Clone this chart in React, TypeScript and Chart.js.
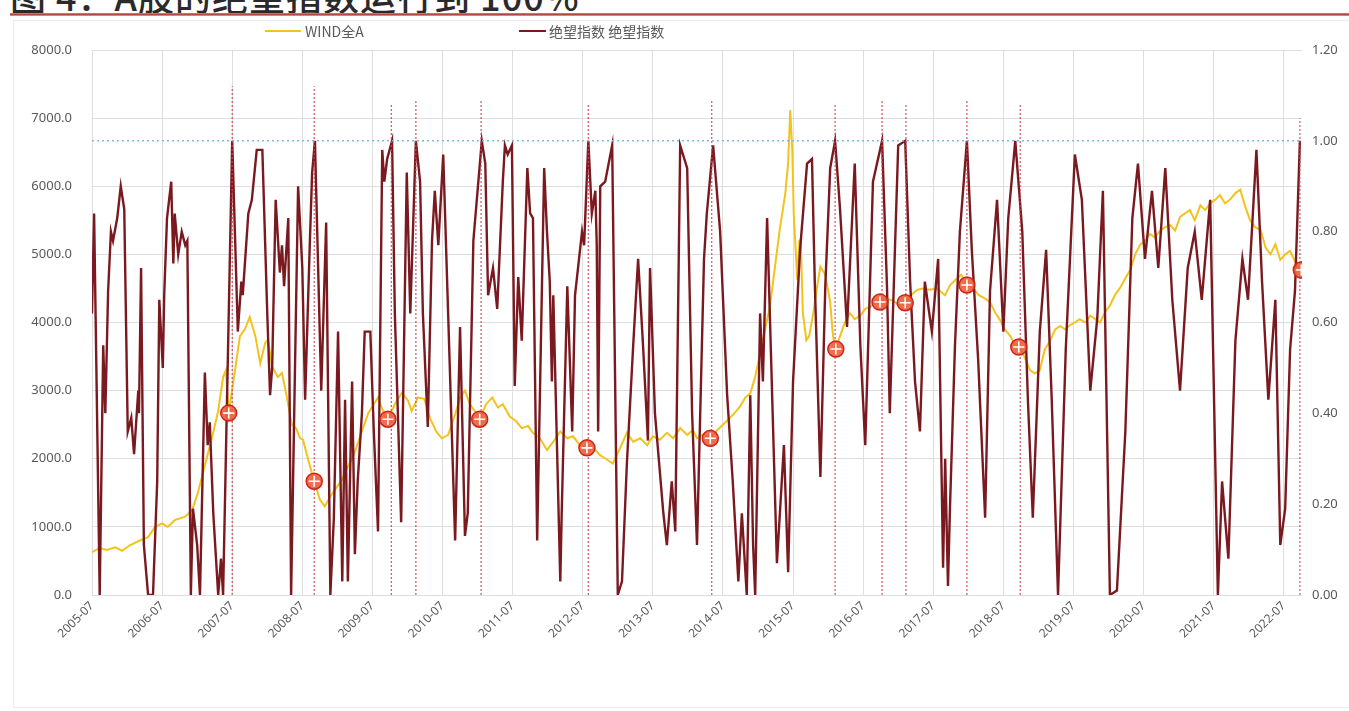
import React, { useEffect, useRef } from "react";
import { Chart, registerables } from "chart.js";

Chart.register(...registerables);

// ---------- data (dates are decimal years) ----------
const tickYears = [2005, 2006, 2007, 2008, 2009, 2010, 2011, 2012, 2013, 2014, 2015, 2016, 2017, 2018, 2019, 2020, 2021, 2022];

const windDates = [
  2005.50, 2005.61, 2005.71, 2005.83, 2005.93, 2006.04, 2006.18, 2006.30, 2006.40, 2006.50,
  2006.58, 2006.68, 2006.83, 2006.93, 2007.01, 2007.11, 2007.21, 2007.30, 2007.37, 2007.41,
  2007.45, 2007.54, 2007.61, 2007.68, 2007.75, 2007.83, 2007.90, 2007.97, 2008.01, 2008.07,
  2008.15, 2008.21, 2008.28, 2008.35, 2008.41, 2008.47, 2008.51, 2008.58, 2008.67, 2008.75,
  2008.82, 2008.90, 2008.97, 2009.07, 2009.15, 2009.25, 2009.35, 2009.44, 2009.52, 2009.58,
  2009.65, 2009.72, 2009.82, 2009.92, 2010.01, 2010.06, 2010.15, 2010.24, 2010.32, 2010.41,
  2010.49, 2010.58, 2010.68, 2010.75, 2010.82, 2010.89, 2010.96, 2011.03, 2011.12, 2011.21,
  2011.29, 2011.36, 2011.46, 2011.55, 2011.63, 2011.72, 2011.79, 2011.89, 2011.99, 2012.08,
  2012.18, 2012.28, 2012.36, 2012.46, 2012.56, 2012.66, 2012.75, 2012.83, 2012.93, 2013.03,
  2013.13, 2013.22, 2013.32, 2013.42, 2013.50, 2013.60, 2013.70, 2013.79, 2013.89, 2013.99,
  2014.07, 2014.13, 2014.22, 2014.32, 2014.40, 2014.50, 2014.60, 2014.69, 2014.74, 2014.82,
  2014.89, 2014.96, 2015.03, 2015.10, 2015.17, 2015.24, 2015.31, 2015.39, 2015.43, 2015.46,
  2015.49, 2015.51, 2015.56, 2015.59, 2015.61, 2015.64, 2015.69, 2015.73, 2015.79, 2015.84,
  2015.89, 2015.96, 2016.03, 2016.07, 2016.11, 2016.17, 2016.24, 2016.31, 2016.38, 2016.46,
  2016.53, 2016.60, 2016.67, 2016.74, 2016.83, 2016.93, 2017.01, 2017.10, 2017.18, 2017.27,
  2017.35, 2017.45, 2017.55, 2017.67, 2017.74, 2017.81, 2017.90, 2017.98, 2018.07, 2018.15,
  2018.24, 2018.31, 2018.38, 2018.45, 2018.52, 2018.60, 2018.65, 2018.72, 2018.80, 2018.88,
  2018.95, 2019.02, 2019.09, 2019.17, 2019.24, 2019.31, 2019.38, 2019.45, 2019.52, 2019.59,
  2019.67, 2019.74, 2019.81, 2019.88, 2019.95, 2020.02, 2020.09, 2020.16, 2020.24, 2020.31,
  2020.38, 2020.45, 2020.52, 2020.59, 2020.66, 2020.74, 2020.81, 2020.88, 2020.95, 2021.02,
  2021.09, 2021.16, 2021.23, 2021.31, 2021.38, 2021.45, 2021.52, 2021.59, 2021.66, 2021.73,
  2021.81, 2021.88, 2021.95, 2022.02, 2022.09, 2022.17, 2022.24, 2022.31, 2022.38, 2022.45,
  2022.52, 2022.59, 2022.66, 2022.73,
];
const windValues = [
  630, 690, 660, 700, 650, 730, 800, 850, 1000, 1050,
  1000, 1100, 1150, 1250, 1500, 1900, 2300, 2700, 3200, 3300,
  2670, 3300, 3800, 3900, 4080, 3800, 3400, 3700, 3750, 3350,
  3200, 3260, 2900, 2500, 2450, 2300, 2280, 2000, 1670, 1400,
  1300, 1450, 1550, 1700, 1880, 2100, 2400, 2670, 2800, 2900,
  2700, 2580, 2800, 2970, 2850, 2700, 2900, 2880, 2600, 2400,
  2300, 2350, 2650, 2900, 3000, 2800, 2700, 2580, 2800, 2900,
  2750, 2800, 2620, 2550, 2450, 2480, 2380, 2300, 2130, 2250,
  2400, 2300, 2330, 2200, 2160, 2150, 2050, 2000, 1930, 2150,
  2380, 2250, 2300, 2200, 2330, 2280, 2380, 2300, 2450, 2350,
  2420, 2300, 2360, 2300, 2400, 2500, 2600, 2700, 2760, 2900,
  2960, 3200, 3550, 3900, 4230, 4800, 5360, 5900, 6340, 7120,
  6500, 5600, 4630, 5200, 5210, 4140, 3740, 3800, 4140, 4500,
  4820, 4700, 4300, 3800, 3610, 3800, 4000, 4140, 4050, 4100,
  4200, 4230, 4280, 4300, 4350, 4320, 4250, 4290, 4400, 4480,
  4500, 4480, 4500, 4400, 4550, 4620, 4700, 4550, 4500, 4400,
  4350, 4300, 4150, 4040, 3900, 3800, 3700, 3640, 3500, 3300,
  3250, 3300, 3600, 3740, 3900, 3950, 3900, 3960, 4000, 4050,
  4000, 4100, 4050, 4000, 4150, 4250, 4400, 4500, 4650, 4770,
  5000, 5140, 5200, 5300, 5250, 5350, 5400, 5430, 5350, 5550,
  5600, 5650, 5500, 5720, 5650, 5750, 5800, 5870, 5750, 5800,
  5900, 5950, 5700, 5500, 5400, 5360, 5100, 5000, 5150, 4920,
  5000, 5050, 4900, 4770,
];

const despairDates = [
  2005.50, 2005.53, 2005.61, 2005.66, 2005.69, 2005.73, 2005.77, 2005.80, 2005.86, 2005.91,
  2005.96, 2006.01, 2006.06, 2006.10, 2006.16, 2006.17, 2006.20, 2006.24, 2006.30, 2006.37,
  2006.43, 2006.46, 2006.51, 2006.53, 2006.57, 2006.63, 2006.66, 2006.68, 2006.73, 2006.78,
  2006.83, 2006.86, 2006.91, 2006.94, 2007.00, 2007.04, 2007.11, 2007.15, 2007.18, 2007.23,
  2007.30, 2007.34, 2007.37, 2007.50, 2007.58, 2007.63, 2007.65, 2007.73, 2007.78, 2007.85,
  2007.93, 2008.00, 2008.04, 2008.07, 2008.12, 2008.18, 2008.21, 2008.24, 2008.30, 2008.34,
  2008.44, 2008.50, 2008.54, 2008.60, 2008.64, 2008.68, 2008.77, 2008.84, 2008.90, 2008.95,
  2009.01, 2009.07, 2009.11, 2009.15, 2009.21, 2009.25, 2009.29, 2009.35, 2009.39, 2009.47,
  2009.52, 2009.58, 2009.64, 2009.67, 2009.71, 2009.78, 2009.82, 2009.91, 2009.99, 2010.04,
  2010.12, 2010.18, 2010.22, 2010.29, 2010.35, 2010.39, 2010.44, 2010.51, 2010.58, 2010.68,
  2010.75, 2010.82, 2010.86, 2010.94, 2011.06, 2011.11, 2011.15, 2011.22, 2011.28, 2011.36,
  2011.39, 2011.43, 2011.49, 2011.53, 2011.58, 2011.63, 2011.71, 2011.75, 2011.79, 2011.85,
  2011.95, 2011.99, 2012.03, 2012.06, 2012.08, 2012.18, 2012.20, 2012.28, 2012.35, 2012.39,
  2012.49, 2012.52, 2012.58, 2012.63, 2012.68, 2012.70, 2012.72, 2012.75, 2012.82, 2012.92,
  2013.00, 2013.06, 2013.13, 2013.22, 2013.29, 2013.36, 2013.43, 2013.46, 2013.53, 2013.65,
  2013.70, 2013.77, 2013.82, 2013.89, 2013.99, 2014.06, 2014.13, 2014.23, 2014.27, 2014.36,
  2014.46, 2014.56, 2014.64, 2014.72, 2014.77, 2014.84, 2014.89, 2014.93, 2014.96, 2015.03,
  2015.07, 2015.13, 2015.27, 2015.37, 2015.43, 2015.50, 2015.60, 2015.70, 2015.77, 2015.81,
  2015.89, 2015.96, 2016.03, 2016.10, 2016.17, 2016.27, 2016.38, 2016.46, 2016.53, 2016.64,
  2016.77, 2016.84, 2016.88, 2017.00, 2017.10, 2017.17, 2017.24, 2017.31, 2017.38, 2017.48,
  2017.57, 2017.64, 2017.67, 2017.71, 2017.74, 2017.81, 2017.88, 2017.98, 2018.05, 2018.14,
  2018.24, 2018.31, 2018.41, 2018.50, 2018.57, 2018.67, 2018.77, 2018.85, 2018.92, 2019.02,
  2019.11, 2019.19, 2019.28, 2019.39, 2019.52, 2019.62, 2019.74, 2019.84, 2019.92, 2020.02,
  2020.12, 2020.24, 2020.34, 2020.42, 2020.52, 2020.62, 2020.71, 2020.81, 2020.91, 2021.02,
  2021.13, 2021.23, 2021.33, 2021.45, 2021.56, 2021.62, 2021.71, 2021.81, 2021.91, 2021.99,
  2022.11, 2022.19, 2022.28, 2022.38, 2022.45, 2022.52, 2022.59, 2022.66, 2022.73,
];
const despairValues = [
  0.62, 0.84, 0.00, 0.55, 0.40, 0.67, 0.80, 0.78, 0.83, 0.90,
  0.85, 0.36, 0.39, 0.31, 0.45, 0.40, 0.72, 0.11, 0.00, 0.00,
  0.25, 0.65, 0.50, 0.66, 0.83, 0.91, 0.73, 0.84, 0.75, 0.80,
  0.77, 0.78, 0.00, 0.19, 0.11, 0.00, 0.49, 0.33, 0.38, 0.18,
  0.00, 0.08, 0.00, 1.00, 0.58, 0.69, 0.66, 0.84, 0.87, 0.98,
  0.98, 0.62, 0.44, 0.50, 0.87, 0.71, 0.77, 0.68, 0.83, 0.00,
  0.90, 0.72, 0.43, 0.74, 0.93, 1.00, 0.45, 0.82, 0.00, 0.17,
  0.58, 0.03, 0.43, 0.03, 0.47, 0.09, 0.25, 0.40, 0.58, 0.58,
  0.36, 0.14, 0.98, 0.91, 0.96, 1.00, 0.62, 0.16, 0.93, 0.62,
  1.00, 0.91, 0.62, 0.37, 0.78, 0.89, 0.77, 0.97, 0.62, 0.12,
  0.59, 0.13, 0.18, 0.78, 1.00, 0.95, 0.66, 0.72, 0.63, 0.91,
  0.99, 0.97, 0.99, 0.46, 0.70, 0.56, 0.94, 0.84, 0.83, 0.12,
  0.94, 0.80, 0.69, 0.47, 0.66, 0.03, 0.18, 0.68, 0.36, 0.66,
  0.80, 0.77, 1.00, 0.84, 0.89, 0.77, 0.36, 0.90, 0.91, 0.99,
  0.00, 0.03, 0.29, 0.55, 0.74, 0.55, 0.34, 0.72, 0.40, 0.18,
  0.11, 0.25, 0.14, 0.99, 0.94, 0.40, 0.11, 0.74, 0.84, 0.99,
  0.80, 0.44, 0.25, 0.03, 0.18, 0.00, 0.44, 0.11, 0.00, 0.62,
  0.47, 0.83, 0.07, 0.33, 0.05, 0.47, 0.76, 0.95, 0.96, 0.69,
  0.26, 0.68, 0.94, 1.00, 0.85, 0.59, 0.95, 0.55, 0.33, 0.91,
  1.00, 0.68, 0.40, 0.99, 1.00, 0.69, 0.47, 0.36, 0.69, 0.58,
  0.74, 0.06, 0.30, 0.02, 0.20, 0.55, 0.80, 1.00, 0.76, 0.52,
  0.17, 0.67, 0.87, 0.58, 0.83, 1.00, 0.80, 0.43, 0.17, 0.58,
  0.76, 0.43, 0.00, 0.54, 0.97, 0.87, 0.45, 0.61, 0.89, 0.00,
  0.01, 0.36, 0.83, 0.95, 0.74, 0.89, 0.72, 0.94, 0.65, 0.45,
  0.72, 0.80, 0.65, 0.87, 0.00, 0.25, 0.08, 0.56, 0.74, 0.65,
  0.98, 0.69, 0.43, 0.65, 0.11, 0.19, 0.54, 0.67, 1.00,
];

// signal markers on WIND全A
const markerDates = [2007.45, 2008.67, 2009.72, 2011.03, 2012.56, 2014.32, 2016.11, 2016.74, 2017.10, 2017.98, 2018.72, 2022.75];
const markerValues = [2670, 1670, 2580, 2580, 2160, 2300, 3610, 4300, 4290, 4550, 3640, 4770];

// vertical dotted signal lines (right axis heights)
const signalDates = [2007.50, 2008.67, 2009.77, 2010.12, 2011.05, 2012.58, 2014.34, 2016.10, 2016.77, 2017.11, 2017.98, 2018.74, 2022.73];
const signalTops = [1.12, 1.12, 1.08, 1.09, 1.09, 1.08, 1.09, 1.08, 1.09, 1.08, 1.09, 1.08, 1.05];

const thresholdLevel = 1.0;
const xMin = 2005.5;
const xMax = 2022.76;

const FONT = "'Noto Sans', 'Noto Sans CJK SC', sans-serif";

export default function App() {
  const canvasRef = useRef<HTMLCanvasElement | null>(null);

  useEffect(() => {
    const canvas = canvasRef.current;
    if (!canvas) return;
    const pairs = (xs: number[], ys: (number | null)[]) => xs.map((x, i) => ({ x, y: ys[i] }));
    const signalData: { x: number; y: number | null }[] = [];
    signalDates.forEach((d, i) => {
      signalData.push({ x: d, y: 0 }, { x: d, y: signalTops[i] }, { x: d, y: null });
    });

    const chart = new Chart(canvas, {
      type: "line",
      data: {
        datasets: [
          {
            label: "cross",
            data: pairs(markerDates, markerValues),
            yAxisID: "y",
            showLine: false,
            pointStyle: "cross",
            pointRadius: 5.5,
            pointBorderColor: "#ffffff",
            pointBorderWidth: 1.6,
            order: 0,
          },
          {
            label: "marker",
            data: pairs(markerDates, markerValues),
            yAxisID: "y",
            showLine: false,
            pointStyle: "circle",
            pointRadius: 8,
            pointBackgroundColor: "rgba(238,98,62,0.92)",
            pointBorderColor: "#c9261b",
            pointBorderWidth: 1.5,
            order: 1,
          },
          {
            label: "signal",
            data: signalData,
            yAxisID: "y1",
            borderColor: "rgba(200,70,85,0.85)",
            borderDash: [2, 2],
            borderWidth: 1.3,
            pointRadius: 0,
            spanGaps: false,
            order: 2,
          },
          {
            label: "threshold",
            data: [
              { x: xMin, y: thresholdLevel },
              { x: xMax, y: thresholdLevel },
            ],
            yAxisID: "y1",
            borderColor: "#7fbcd4",
            borderDash: [2, 3],
            borderWidth: 1.5,
            pointRadius: 0,
            order: 3,
          },
          {
            label: "绝望指数 绝望指数",
            data: pairs(despairDates, despairValues),
            yAxisID: "y1",
            borderColor: "#7a1a20",
            borderWidth: 2.4,
            pointRadius: 0,
            tension: 0,
            order: 4,
          },
          {
            label: "WIND全A",
            data: pairs(windDates, windValues),
            yAxisID: "y",
            borderColor: "#f2c31c",
            borderWidth: 2,
            pointRadius: 0,
            tension: 0,
            order: 5,
          },
        ],
      },
      options: {
        animation: false,
        responsive: false,
        events: [],
        layout: { padding: { top: 30, left: 0, right: 0, bottom: 0 } },
        plugins: { legend: { display: false }, tooltip: { enabled: false }, title: { display: false } },
        scales: {
          x: {
            type: "linear",
            min: xMin,
            max: xMax,
            afterBuildTicks: (scale: any) => {
              scale.ticks = tickYears.map((y) => ({ value: y + 0.5 }));
            },
            afterFit: (scale: any) => {
              scale.height = 116;
            },
            ticks: {
              autoSkip: false,
              minRotation: 45,
              maxRotation: 45,
              padding: 4,
              color: "#595959",
              font: { family: FONT, size: 12 },
              callback: (v: any) => `${Math.floor(Number(v))}-07`,
            },
            grid: { color: "#dedede", drawTicks: false },
            border: { display: false },
          },
          y: {
            position: "left",
            min: 0,
            max: 8000,
            afterFit: (scale: any) => {
              scale.width = 92;
            },
            ticks: {
              stepSize: 1000,
              padding: 20,
              color: "#595959",
              font: { family: FONT, size: 13 },
              callback: (v: any) => Number(v).toFixed(1),
            },
            grid: { color: "#dedede", drawTicks: false },
            border: { display: false },
          },
          y1: {
            position: "right",
            min: 0,
            max: 1.2,
            afterFit: (scale: any) => {
              scale.width = 47;
            },
            ticks: {
              stepSize: 0.2,
              padding: 10,
              color: "#595959",
              font: { family: FONT, size: 13 },
              callback: (v: any) => Number(v).toFixed(2),
            },
            grid: { display: false, drawTicks: false },
            border: { display: false },
          },
        },
      },
    });
    return () => chart.destroy();
  }, []);

  const legendText: React.CSSProperties = {
    position: "absolute",
    top: 22,
    fontFamily: "'Noto Sans CJK SC', 'Noto Sans', sans-serif",
    fontSize: 14,
    color: "#595959",
    whiteSpace: "nowrap",
    lineHeight: "18px",
  };

  return (
    <div
      style={{
        position: "absolute",
        left: 0,
        top: 0,
        width: 1349,
        height: 711,
        overflow: "hidden",
        background: "#ffffff",
      }}
    >
      <div
        style={{
          position: "absolute",
          left: 10,
          top: -27,
          fontFamily: "'Noto Sans CJK SC', sans-serif",
          fontSize: 36,
          fontWeight: 500,
          color: "#2a2a2a",
          whiteSpace: "nowrap",
          lineHeight: "44px",
          letterSpacing: 1,
        }}
      >
        图 4：A股的绝望指数运行到 100%
      </div>
      <div
        style={{
          position: "absolute",
          left: 10,
          right: 0,
          top: 13,
          height: 3,
          background: "linear-gradient(#c98a84, #b04a42, #d9a9a4)",
        }}
      />
      <div
        style={{
          position: "absolute",
          left: 13,
          top: 20,
          width: 1340,
          height: 686,
          border: "1px solid #ececec",
        }}
      />
      <canvas
        ref={canvasRef}
        width={1349}
        height={691}
        style={{ position: "absolute", left: 0, top: 20, width: 1349, height: 691 }}
      />
      <div style={{ position: "absolute", left: 265, top: 30, width: 36, height: 2, background: "#f2c31c" }} />
      <div style={{ ...legendText, left: 305 }}>WIND全A</div>
      <div style={{ position: "absolute", left: 519, top: 30, width: 27, height: 2, background: "#7a1a20" }} />
      <div style={{ ...legendText, left: 549 }}>绝望指数 绝望指数</div>
    </div>
  );
}
